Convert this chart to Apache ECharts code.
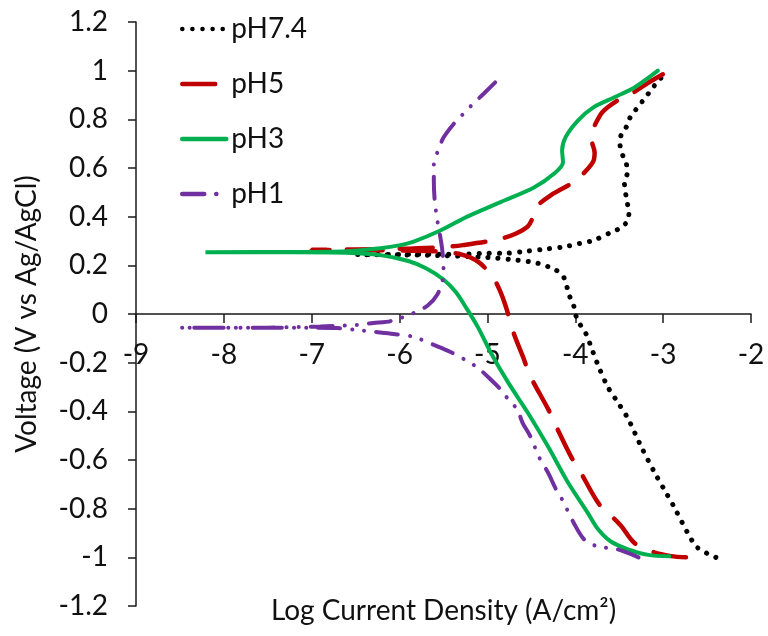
<!DOCTYPE html>
<html>
<head>
<meta charset="utf-8">
<script src="https://cdn.jsdelivr.net/npm/echarts@6/dist/echarts.min.js"></script>
<style>html,body{margin:0;padding:0;background:#fff;}#c{width:768px;height:636px;}</style>
</head>
<body>
<div id="c"></div>
<script>
// [log current density, voltage]
const ph74 = [[-2.40,-1.00],[-2.61,-0.96],[-2.72,-0.90],[-2.88,-0.79],[-2.99,-0.72],[-3.10,-0.65],[-3.25,-0.545],[-3.40,-0.43],[-3.54,-0.35],[-3.63,-0.30],[-3.73,-0.22],[-3.80,-0.155],[-3.88,-0.08],[-3.95,-0.04],[-4.00,0.0],[-4.02,0.037],[-4.07,0.078],[-4.13,0.15],[-4.22,0.18],[-4.43,0.209],[-4.66,0.221],[-5.0,0.232],[-5.5,0.240],[-6.0,0.243],[-6.48,0.244],[-6.0,0.245],[-5.5,0.246],[-5.23,0.246],[-5.0,0.25],[-4.79,0.25],[-4.56,0.258],[-4.36,0.266],[-4.13,0.276],[-3.95,0.29],[-3.79,0.303],[-3.59,0.336],[-3.49,0.353],[-3.40,0.385],[-3.39,0.422],[-3.41,0.46],[-3.44,0.537],[-3.41,0.578],[-3.42,0.62],[-3.46,0.652],[-3.49,0.693],[-3.48,0.734],[-3.42,0.768],[-3.38,0.805],[-3.31,0.84],[-3.18,0.90],[-3.11,0.934],[-3.03,0.967],[-2.98,0.99]];
const ph5 = [[-2.74,-1.0],[-2.91,-0.995],[-3.10,-0.98],[-3.33,-0.94],[-3.48,-0.87],[-3.62,-0.82],[-3.74,-0.776],[-3.94,-0.65],[-4.05,-0.585],[-4.22,-0.46],[-4.31,-0.39],[-4.51,-0.257],[-4.59,-0.181],[-4.70,-0.08],[-4.79,0.03],[-4.86,0.098],[-4.94,0.152],[-5.10,0.213],[-5.30,0.245],[-5.6,0.258],[-6.2,0.262],[-7.0,0.264],[-6.5,0.265],[-6.0,0.268],[-5.5,0.275],[-5.28,0.283],[-4.87,0.307],[-4.68,0.33],[-4.54,0.36],[-4.48,0.40],[-4.45,0.438],[-4.28,0.488],[-4.02,0.541],[-3.94,0.565],[-3.80,0.624],[-3.78,0.664],[-3.81,0.706],[-3.82,0.746],[-3.79,0.768],[-3.69,0.83],[-3.52,0.877],[-3.34,0.91],[-3.17,0.95],[-2.93,1.0]];
const ph3 = [[-2.93,-0.996],[-3.17,-0.99],[-3.40,-0.967],[-3.60,-0.934],[-3.74,-0.885],[-3.86,-0.816],[-4.09,-0.688],[-4.31,-0.545],[-4.54,-0.406],[-4.77,-0.278],[-4.96,-0.16],[-5.11,-0.053],[-5.25,0.03],[-5.36,0.09],[-5.50,0.142],[-5.70,0.188],[-5.9,0.218],[-6.22,0.242],[-6.6,0.252],[-7.2,0.254],[-8.21,0.254],[-7.2,0.255],[-6.6,0.258],[-6.22,0.27],[-5.99,0.283],[-5.84,0.297],[-5.53,0.344],[-5.23,0.40],[-4.85,0.46],[-4.47,0.52],[-4.24,0.577],[-4.14,0.624],[-4.15,0.672],[-4.11,0.727],[-3.97,0.795],[-3.79,0.85],[-3.56,0.89],[-3.33,0.93],[-3.06,1.0]];
const ph1 = [[-3.28,-1.0],[-3.52,-0.967],[-3.75,-0.955],[-3.90,-0.926],[-4.02,-0.857],[-4.15,-0.762],[-4.22,-0.72],[-4.31,-0.652],[-4.41,-0.59],[-4.51,-0.504],[-4.60,-0.447],[-4.66,-0.393],[-4.76,-0.352],[-4.85,-0.31],[-4.96,-0.27],[-5.11,-0.221],[-5.25,-0.189],[-5.42,-0.156],[-5.61,-0.127],[-5.84,-0.094],[-6.07,-0.082],[-6.27,-0.074],[-6.48,-0.066],[-6.71,-0.058],[-7.0,-0.057],[-7.55,-0.057],[-8.50,-0.057],[-7.5,-0.056],[-6.9,-0.051],[-6.48,-0.045],[-6.30,-0.037],[-6.10,-0.029],[-5.84,0.004],[-5.68,0.035],[-5.57,0.08],[-5.51,0.139],[-5.50,0.193],[-5.51,0.25],[-5.53,0.303],[-5.57,0.385],[-5.60,0.467],[-5.61,0.549],[-5.61,0.619],[-5.57,0.664],[-5.50,0.725],[-5.38,0.783],[-5.27,0.824],[-5.16,0.865],[-5.04,0.906],[-4.87,0.967]];

const seriesNames = ['pH7.4','pH5','pH3','pH1'];
const xTicks = {min:-9, max:-2, interval:1};
const yTicks = {min:-1.2, max:1.2, interval:0.2};

const FONT = 'Lato';
const chart = echarts.init(document.getElementById('c'), null, {renderer:'canvas'});
function mk(name, data, color, width, type){
  return {name, type:'line', data, symbol:'none', showSymbol:false, smooth:0.3,
    lineStyle:{color, width, type, cap:'round'}, itemStyle:{color}};
}
chart.setOption({
  animation:false,
  backgroundColor:'#fff',
  grid:{left:136, right:17, top:22, bottom:30, containLabel:false, outerBoundsMode:'none'},
  legend:{
    orient:'vertical', left:175, top:10, itemWidth:44, itemHeight:28, itemGap:27,
    data:seriesNames,
    itemStyle:{opacity:0},
    lineStyle:{width:4.5},
    textStyle:{fontFamily:FONT, fontSize:28, color:'#111'}
  },
  xAxis:{
    type:'value', min:xTicks.min, max:xTicks.max, interval:xTicks.interval,
    offset:-292,
    name:'Log Current Density (A/cm²)', nameLocation:'middle', nameGap:283,
    nameTextStyle:{fontFamily:FONT, fontSize:28, color:'#111'},
    axisLine:{onZero:false, lineStyle:{color:'#1a1a1a', width:1.5}},
    axisTick:{show:true, inside:false, length:9, lineStyle:{color:'#1a1a1a', width:1.5}},
    axisLabel:{margin:27, fontFamily:FONT, fontSize:28, color:'#111'},
    splitLine:{show:false}
  },
  yAxis:{
    type:'value', min:yTicks.min, max:yTicks.max, interval:yTicks.interval,
    name:'Voltage (V vs Ag/AgCl)', nameLocation:'middle', nameGap:95, nameRotate:90,
    nameTextStyle:{fontFamily:FONT, fontSize:28, color:'#111'},
    axisLine:{onZero:false, lineStyle:{color:'#1a1a1a', width:1.5}},
    axisTick:{show:true, inside:false, length:8, lineStyle:{color:'#1a1a1a', width:1.5}},
    axisLabel:{margin:28, fontFamily:FONT, fontSize:28, color:'#111',
      formatter:v => String(Math.round(v*10)/10)},
    splitLine:{show:false}
  },
  series:[
    mk('pH7.4', ph74, '#000000', 5, [0.1, 10]),
    mk('pH5', ph5, '#C00000', 4.5, [33, 20]),
    mk('pH3', ph3, '#00B050', 4, 'solid'),
    mk('pH1', ph1, '#7030A0', 4, [22, 12, 0.1, 12, 0.1, 12])
  ]
});
</script>
</body>
</html>
